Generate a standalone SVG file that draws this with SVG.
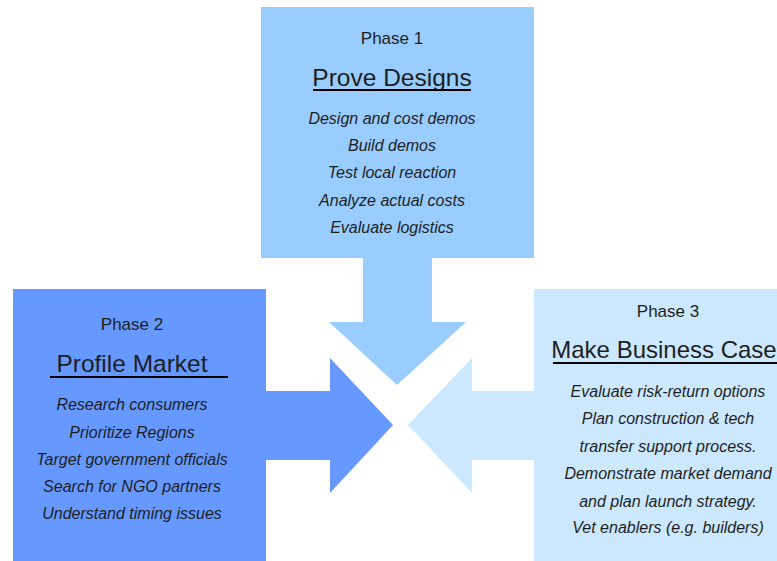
<svg xmlns="http://www.w3.org/2000/svg" width="777" height="561" viewBox="0 0 777 561">
<style>
text{font-family:"Liberation Sans","Open Sans",sans-serif;fill:#1e1e1e;text-anchor:middle}
.ph{font-size:17px}
.ti{font-size:24.5px}
.it{font-size:16px;font-style:italic}
.ul{stroke:#000;stroke-width:2}
</style>
<rect width="777" height="561" fill="#fff"/>
<g id="connectors">
<path d="M363,255 L432,255 L432,322 L466,322 L397,385 L329,322 L363,322 Z" fill="#99CCFF"/>
<path d="M262,391 L330,391 L330,358 L393,425 L330,493 L330,460 L262,460 Z" fill="#6699FF"/>
<path d="M538,391 L472,391 L472,358 L408,425 L472,493 L472,460 L538,460 Z" fill="#CCE8FF"/>
</g>
<g id="phase1">
<rect x="261" y="7" width="273" height="251" fill="#99CCFF"/>
<text class="ph" x="392" y="44">Phase 1</text>
<text class="ti" x="392" y="86">Prove Designs</text>
<line class="ul" x1="313" y1="90" x2="471" y2="90"/>
<text class="it" x="392" y="124">Design and cost demos</text>
<text class="it" x="392" y="151">Build demos</text>
<text class="it" x="392" y="178">Test local reaction</text>
<text class="it" x="392" y="206">Analyze actual costs</text>
<text class="it" x="392" y="233">Evaluate logistics</text>
</g>
<g id="phase2">
<rect x="13" y="289" width="253" height="272" fill="#6699FF"/>
<text class="ph" x="132" y="330">Phase 2</text>
<text class="ti" x="132" y="372">Profile Market</text>
<line class="ul" x1="50" y1="377" x2="228" y2="377"/>
<text class="it" x="132" y="410">Research consumers</text>
<text class="it" x="132" y="438">Prioritize Regions</text>
<text class="it" x="132" y="465">Target government officials</text>
<text class="it" x="132" y="492">Search for NGO partners</text>
<text class="it" x="132" y="519">Understand timing issues</text>
</g>
<g id="phase3">
<rect x="534" y="289" width="243" height="272" fill="#CCE8FF"/>
<text class="ph" x="668" y="317">Phase 3</text>
<text x="664" y="358" style="font-size:24px">Make Business Case</text>
<line class="ul" x1="553" y1="363" x2="777" y2="363"/>
<text class="it" x="668" y="397">Evaluate risk-return options</text>
<text class="it" x="668" y="424">Plan construction &amp; tech</text>
<text class="it" x="668" y="452">transfer support process.</text>
<text class="it" x="668" y="479">Demonstrate market demand</text>
<text class="it" x="668" y="507">and plan launch strategy.</text>
<text class="it" x="668" y="533">Vet enablers (e.g. builders)</text>
</g>
</svg>
